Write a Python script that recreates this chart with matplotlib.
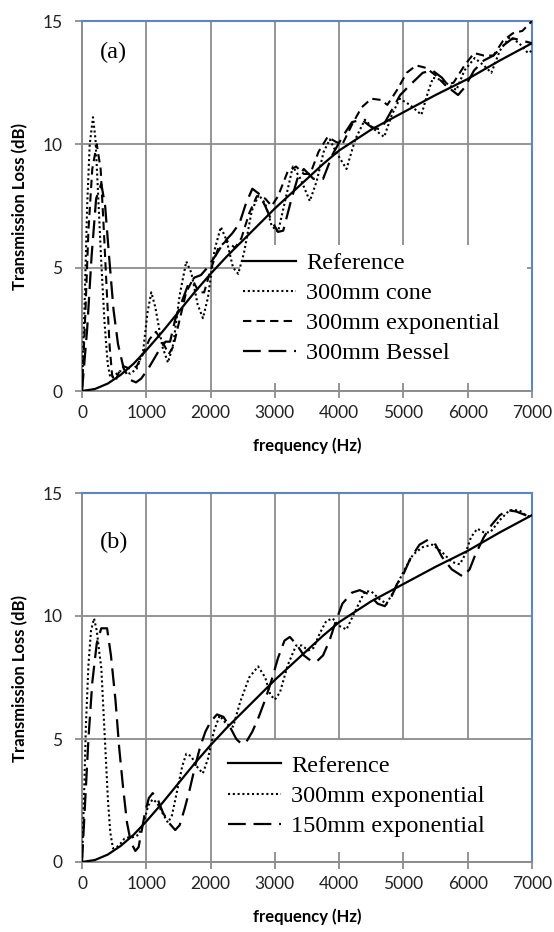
import matplotlib
matplotlib.use('Agg')
import matplotlib.pyplot as plt
from matplotlib.patches import Rectangle

# ---- data (frequency in Hz, transmission loss in dB) ----
ref_f = [0, 200, 400, 600, 800, 1000, 1250, 1500, 1750, 2000, 2250, 2500, 2750, 3000,
         3250, 3500, 3750, 4000, 4500, 5000, 5500, 6000, 6500, 7000]
ref_tl = [0, 0.08, 0.3, 0.65, 1.1, 1.65, 2.4, 3.2, 4.0, 4.75, 5.45, 6.1, 6.75, 7.4,
          8.0, 8.6, 9.2, 9.75, 10.6, 11.3, 12.0, 12.65, 13.4, 14.1]

# panel (a)
cone_f = [0, 40, 80, 120, 171, 210, 250, 300, 350, 400, 440, 500, 580, 660, 750, 850, 950,
          1020, 1078, 1140, 1250, 1337, 1420, 1520, 1622, 1700, 1800, 1881, 1960, 2060,
          2160, 2250, 2350, 2430, 2520, 2640, 2750, 2850, 2950, 3050, 3150, 3280, 3400,
          3544, 3650, 3760, 3855, 3950, 4114, 4250, 4400, 4550, 4700, 4820, 4943, 5100,
          5280, 5380, 5460, 5600, 5824, 5950, 6109, 6250, 6368, 6500, 6653, 6800, 6938, 7000]
cone_tl = [0, 3.5, 7.5, 10.0, 11.1, 10.2, 8.0, 5.2, 2.8, 1.1, 0.55, 0.6, 0.8, 0.8, 0.7, 0.9, 1.6,
           3.2, 4.0, 3.4, 1.8, 1.15, 1.9, 3.9, 5.25, 4.8, 3.5, 2.95, 3.8, 5.7,
           6.65, 6.1, 5.0, 4.75, 5.6, 7.3, 7.95, 7.6, 6.7, 6.45, 7.6, 9.1, 8.6,
           7.7, 8.5, 9.7, 10.2, 9.7, 9.0, 10.2, 11.0, 10.6, 10.3, 11.2, 11.85, 11.6,
           11.2, 12.1, 12.7, 12.6, 12.2, 13.0, 13.5, 13.2, 12.9, 13.8, 14.35, 14.1, 13.7, 13.8]

exp300_f = [0, 50, 100, 160, 230, 290, 340, 390, 430, 470, 520, 580, 650, 750, 850, 950,
            1050, 1150, 1250, 1350, 1420, 1520, 1620, 1720, 1820, 1900, 2000, 2120, 2250,
            2380, 2480, 2600, 2720, 2850, 2950, 3050, 3200, 3330, 3450, 3550, 3680, 3820,
            3950, 4050, 4200, 4350, 4500, 4650, 4750, 4900, 5050, 5200, 5350, 5500, 5650,
            5780, 5950, 6100, 6250, 6400, 6550, 6700, 6850, 7000]
exp300_tl = [0, 3.0, 6.5, 9.0, 10.0, 9.0, 6.5, 3.8, 1.8, 0.6, 0.4, 0.8, 1.0, 0.9, 1.0, 1.5,
             2.1, 2.4, 2.0, 1.5, 1.8, 2.9, 4.0, 4.5, 4.0, 4.0, 4.9, 5.8, 6.1,
             5.8, 6.2, 7.2, 7.9, 7.8, 7.5, 7.9, 8.9, 9.1, 8.8, 8.8, 9.7, 10.3,
             10.1, 10.0, 10.8, 11.5, 11.85, 11.8, 11.6, 12.2, 12.9, 13.2, 13.1, 12.8, 12.4,
             12.5, 13.2, 13.7, 13.6, 13.6, 14.2, 14.5, 14.6, 15.0]

bessel_f = [0, 80, 150, 220, 300, 360, 420, 490, 560, 650, 750, 840, 920, 1030, 1120, 1210,
            1300, 1370, 1450, 1550, 1650, 1750, 1850, 1950, 2080, 2200, 2340, 2450, 2550,
            2650, 2750, 2850, 2950, 3050, 3130, 3250, 3350, 3450, 3600, 3750, 3900, 4050,
            4200, 4350, 4500, 4650, 4800, 4950, 5100, 5300, 5450, 5600, 5750, 5850, 5950,
            6100, 6250, 6400, 6550, 6700, 6850, 7000]
bessel_tl = [0, 2.5, 5.5, 7.8, 8.4, 7.5, 5.5, 3.3, 1.9, 0.9, 0.45, 0.35, 0.5, 0.9, 1.3, 1.7,
             2.0, 2.0, 2.9, 3.6, 4.3, 4.6, 4.7, 5.0, 5.5, 6.0, 6.4, 6.8, 7.6,
             8.2, 8.0, 7.5, 6.9, 6.45, 6.5, 7.7, 8.6, 9.0, 8.6, 8.6, 9.6, 10.3,
             10.9, 11.0, 10.7, 10.6, 11.3, 12.0, 12.4, 12.9, 13.0, 12.7, 12.2, 12.0, 12.3,
             13.0, 13.4, 13.6, 14.0, 14.3, 14.2, 14.1]

# panel (b)
b_exp300_f = [0, 30, 60, 100, 140, 187, 230, 270, 300, 352, 404, 440, 482, 540, 600, 660,
              720, 780, 880, 960, 1030, 1100, 1170, 1250, 1337, 1400, 1480, 1560, 1622, 1700,
              1780, 1880, 1960, 2050, 2140, 2250, 2350, 2460, 2600, 2740, 2850, 2930, 3000,
              3080, 3200, 3330, 3420, 3520, 3600, 3700, 3800, 3900, 4000, 4114, 4250, 4400,
              4500, 4620, 4736, 4850, 5000, 5150, 5300, 5450, 5600, 5750, 5876, 5960, 6050,
              6150, 6250, 6350, 6500, 6650, 6800, 6900, 7000]
b_exp300_tl = [0, 2.5, 5.5, 8.0, 9.4, 9.9, 9.4, 8.5, 7.9, 5.2, 2.5, 1.2, 0.55, 0.6, 0.75, 0.95,
               1.0, 1.0, 1.1, 1.6, 2.3, 2.55, 2.4, 2.0, 1.6, 1.9, 2.9, 3.9, 4.4, 4.3,
               3.9, 3.6, 4.2, 5.3, 5.95, 5.6, 5.5, 6.5, 7.5, 7.95, 7.5, 6.8, 6.6,
               6.9, 8.0, 8.8, 8.8, 8.6, 8.7, 9.3, 9.8, 9.9, 9.6, 9.45, 10.2, 11.0,
               11.0, 10.7, 10.5, 11.0, 11.8, 12.5, 12.8, 12.9, 12.6, 12.2, 12.1, 12.5, 13.2,
               13.55, 13.4, 13.4, 13.9, 14.3, 14.3, 14.1, 14.0]

b_exp150_f = [0, 50, 100, 160, 230, 300, 390, 450, 520, 580, 640, 700, 760, 830, 880, 930,
              980, 1040, 1100, 1170, 1260, 1350, 1450, 1520, 1600, 1680, 1760, 1840, 1920,
              2000, 2100, 2200, 2300, 2400, 2480, 2560, 2650, 2750, 2850, 2950, 3050, 3150,
              3233, 3350, 3450, 3550, 3650, 3750, 3850, 3950, 4050, 4200, 4320, 4450, 4600,
              4710, 4800, 4900, 5000, 5100, 5250, 5383, 5500, 5600, 5750, 5927, 6030, 6120,
              6250, 6370, 6500, 6627, 6750, 6900, 7000]
b_exp150_tl = [0, 2.5, 5.0, 7.3, 8.9, 9.5, 9.5, 8.4, 6.6, 4.6, 3.0, 1.6, 0.8, 0.45, 0.6, 1.3,
               2.0, 2.6, 2.8, 2.6, 2.0, 1.6, 1.3, 1.5, 2.2, 3.0, 3.9, 4.7, 5.3,
               5.7, 6.0, 5.9, 5.5, 5.0, 4.8, 4.9, 5.3, 5.9, 6.6, 7.4, 8.3, 9.0,
               9.15, 8.8, 8.4, 8.2, 8.15, 8.4, 9.0, 9.8, 10.5, 10.95, 11.05, 10.9, 10.5,
               10.4, 10.7, 11.3, 11.7, 12.3, 12.9, 13.1, 12.9, 12.4, 11.9, 11.6, 11.9, 12.5,
               13.2, 13.7, 14.1, 14.3, 14.25, 14.1, 14.0]

x_ticks = [0, 1000, 2000, 3000, 4000, 5000, 6000, 7000]
y_ticks = [0, 5, 10, 15]

# ---- styling ----
tick_font = 'Lato'
serif = 'Liberation Serif'
grid_col = '#8c8c8c'
blue = '#5b87c5'
dot = (0, (1, 1.3))
mid_dash = (0, (4, 2.5))
long_dash = (0, (8, 3.5))

fig = plt.figure(figsize=(5.54, 9.32), dpi=100)
ax1 = fig.add_axes([82/554, (932-391)/932, 450/554, 370/932])
ax2 = fig.add_axes([82/554, (932-862)/932, 450/554, 369/932])


def style_axes(ax):
    ax.set_xlim(0, 7000)
    ax.set_ylim(0, 15)
    ax.set_xticks(x_ticks)
    ax.set_yticks(y_ticks)
    ax.set_axisbelow(True)
    ax.grid(True, color=grid_col, linewidth=1.3)
    for s in ['left', 'bottom']:
        ax.spines[s].set_color(grid_col)
        ax.spines[s].set_linewidth(1.4)
    for s in ['top', 'right']:
        ax.spines[s].set_color(blue)
        ax.spines[s].set_linewidth(1.5)
    ax.tick_params(axis='both', direction='out', length=5, width=1.3, color=grid_col,
                   labelsize=12.5, labelcolor='#222222')
    ax.tick_params(axis='y', pad=9)
    ax.tick_params(axis='x', pad=5)
    for lab in ax.get_xticklabels() + ax.get_yticklabels():
        lab.set_family(tick_font)
    ax.set_xlabel('frequency (Hz)', fontsize=12, fontweight='bold', family=tick_font,
                  labelpad=12)


style_axes(ax1)
style_axes(ax2)

# white legend boxes hiding the grid
ax1.add_patch(Rectangle((0.351, 0.022), 0.638, 0.373, transform=ax1.transAxes,
                        facecolor='white', edgecolor='none', zorder=1))
ax2.add_patch(Rectangle((0.307, 0.027), 0.69, 0.303, transform=ax2.transAxes,
                        facecolor='white', edgecolor='none', zorder=1))

# panel (a)
ax1.plot(ref_f, ref_tl, color='black', lw=1.6, label='Reference', zorder=3)
ax1.plot(cone_f, cone_tl, color='black', lw=1.5, ls=dot, label='300mm cone', zorder=3)
ax1.plot(exp300_f, exp300_tl, color='black', lw=1.5, ls=mid_dash,
         label='300mm exponential', zorder=3)
ax1.plot(bessel_f, bessel_tl, color='black', lw=1.6, ls=long_dash,
         label='300mm Bessel', zorder=3)

# panel (b)
ax2.plot(ref_f, ref_tl, color='black', lw=1.6, label='Reference', zorder=3)
ax2.plot(b_exp300_f, b_exp300_tl, color='black', lw=1.5, ls=dot,
         label='300mm exponential', zorder=3)
ax2.plot(b_exp150_f, b_exp150_tl, color='black', lw=1.6, ls=long_dash,
         label='150mm exponential', zorder=3)

leg_kw = dict(frameon=False, prop={'family': serif, 'size': 17.5}, handlelength=2.2,
              handletextpad=0.4, labelspacing=0.33, borderaxespad=0, borderpad=0,
              loc='upper left')
ax1.legend(bbox_to_anchor=(0.357, 0.375), **leg_kw)
ax2.legend(bbox_to_anchor=(0.324, 0.29), **leg_kw)

ax1.text(0.04, 0.915, '(a)', transform=ax1.transAxes, family=serif, fontsize=17.5,
         va='center', ha='left')
ax2.text(0.04, 0.865, '(b)', transform=ax2.transAxes, family=serif, fontsize=17.5,
         va='center', ha='left')

fig.text(20/554, 1 - 206/932, 'Transmission Loss (dB)', rotation=90, ha='center',
         va='center', fontsize=12, fontweight='bold', family=tick_font)
fig.text(20/554, 1 - 678/932, 'Transmission Loss (dB)', rotation=90, ha='center',
         va='center', fontsize=12, fontweight='bold', family=tick_font)

fig.savefig('out.png', dpi=100)
